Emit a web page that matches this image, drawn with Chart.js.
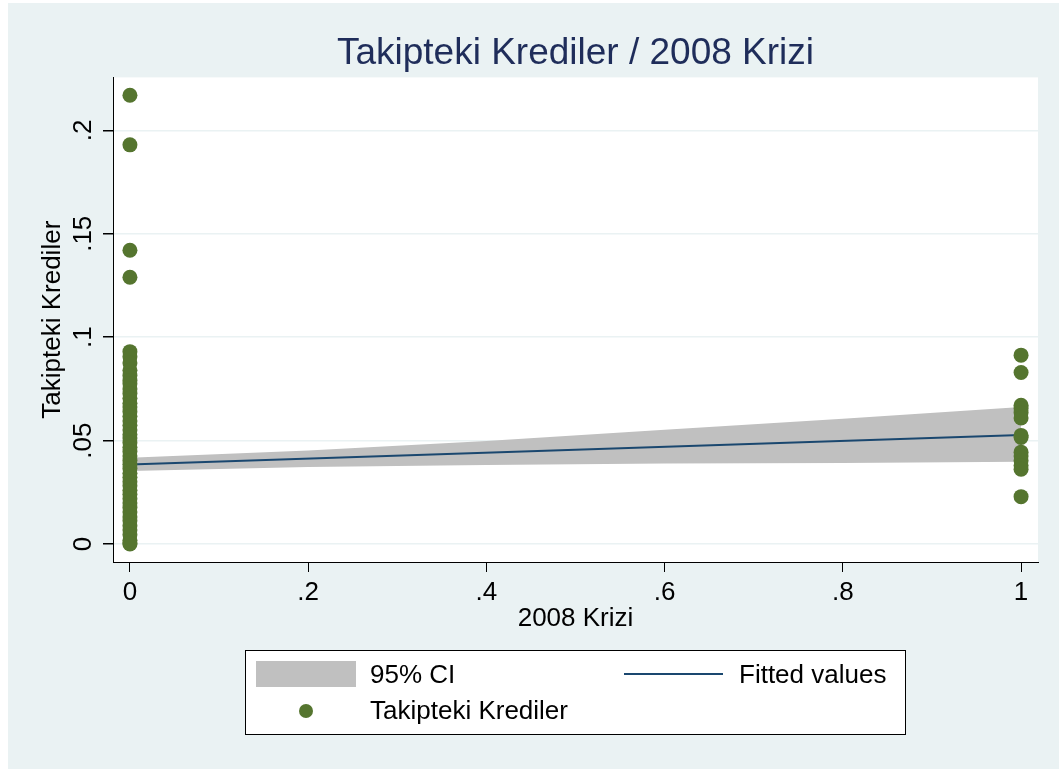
<!DOCTYPE html>
<html>
<head>
<meta charset="utf-8">
<script src="https://cdn.jsdelivr.net/npm/chart.js@4/dist/chart.umd.min.js"></script>
<style>
  html, body { margin: 0; padding: 0; background: #fff; }
  canvas { display: block; }
</style>
</head>
<body>
<canvas id="c" width="1059" height="769"></canvas>
<script>
// Takipteki Krediler / 2008 Krizi -- scatter + lfitci (Stata look)

const titleText = "Takipteki Krediler / 2008 Krizi";
const xTitle = "2008 Krizi";
const yTitle = "Takipteki Krediler";

// tick values and their labels
const xTicks = [0, 0.2, 0.4, 0.6, 0.8, 1];
const xTickLabels = ["0", ".2", ".4", ".6", ".8", "1"];
const yTicks = [0, 0.05, 0.1, 0.15, 0.2];
const yTickLabels = ["0", ".05", ".1", ".15", ".2"];

// observations, 2008 Krizi = 0
const nplNoCrisis = [
    0.217, 0.193, 0.142, 0.129,
    0.093, 0.0905, 0.0875, 0.084, 0.0815, 0.079, 0.0775, 0.075, 0.0728, 0.0705,
    0.068, 0.0662, 0.064, 0.0618, 0.0595, 0.0574, 0.0551, 0.053, 0.0512, 0.049,
    0.0468, 0.0447, 0.0425, 0.0404, 0.0386, 0.0365, 0.0342, 0.0323, 0.0301,
    0.0282, 0.026, 0.0241, 0.0219, 0.0198, 0.0176, 0.0155, 0.0131, 0.0112,
    0.0088, 0.0068, 0.0045, 0.0018, 0.0005, 0.0
];
// observations, 2008 Krizi = 1
const nplCrisis = [
    0.0913, 0.0829, 0.0671, 0.0655, 0.0635, 0.0609, 0.0525, 0.0515,
    0.0444, 0.0425, 0.0402, 0.038, 0.0362, 0.0229
];

// fitted values and 95% CI
const fitX = [0, 1];
const fitY = [0.0385, 0.0527];
const ciX = [0, 0.2, 0.4, 0.6, 0.8, 1];
const ciLower = [0.0353, 0.0372, 0.0382, 0.0389, 0.0392, 0.0398];
const ciUpper = [0.0417, 0.0452, 0.0498, 0.0552, 0.0606, 0.0662];

const FONT = "'Liberation Sans', Arial, sans-serif";
const BG = "#EAF2F3";
const GREEN = "#55752F";
const NAVY = "#1A476F";
const GREY = "#C0C0C0";

const pts = (xs, ys) => xs.map((x, i) => ({ x, y: ys[i] }));

const stataBg = {
    id: "stataBg",
    beforeDraw(chart) {
        const { ctx, chartArea: a } = chart;
        ctx.save();
        ctx.fillStyle = "#fff";
        ctx.fillRect(0, 0, chart.width, chart.height);
        ctx.fillStyle = BG;
        ctx.fillRect(8, 3, chart.width - 8, chart.height - 3);
        ctx.fillStyle = "#fff";
        ctx.fillRect(a.left, a.top, a.right - a.left, a.bottom - a.top);
        ctx.restore();
    }
};

// boxed legend under the plot, like Stata's two-column legend
const stataLegend = {
    id: "stataLegend",
    afterDraw(chart) {
        const ctx = chart.ctx;
        const ds = chart.data.datasets;
        ctx.save();
        ctx.fillStyle = "#fff";
        ctx.fillRect(245, 650, 661, 85);
        ctx.strokeStyle = "#000";
        ctx.lineWidth = 1;
        ctx.strokeRect(245.5, 650.5, 660, 84);

        ctx.font = "26px " + FONT;
        ctx.fillStyle = "#000";
        ctx.textBaseline = "middle";
        ctx.textAlign = "left";

        // CI
        ctx.fillStyle = ds[1].backgroundColor;
        ctx.fillRect(256, 661, 100, 26);
        ctx.fillStyle = "#000";
        ctx.fillText(ds[1].label, 370, 676);

        // fitted line
        ctx.strokeStyle = ds[2].borderColor;
        ctx.lineWidth = 2;
        ctx.beginPath();
        ctx.moveTo(624, 674);
        ctx.lineTo(723, 674);
        ctx.stroke();
        ctx.fillText(ds[2].label, 739, 676);

        // scatter
        ctx.fillStyle = ds[3].backgroundColor;
        ctx.beginPath();
        ctx.arc(306, 711, 7, 0, Math.PI * 2);
        ctx.fill();
        ctx.fillStyle = "#000";
        ctx.fillText(ds[3].label, 370, 712);
        ctx.restore();
    }
};

new Chart(document.getElementById("c"), {
    type: "scatter",
    data: {
        datasets: [
            { type: "line", label: "lower", data: pts(ciX, ciLower), borderWidth: 0, pointRadius: 0, fill: false, order: 3 },
            { type: "line", label: "95% CI", data: pts(ciX, ciUpper), borderWidth: 0, pointRadius: 0, backgroundColor: GREY, fill: "-1", order: 2 },
            { type: "line", label: "Fitted values", data: pts(fitX, fitY), borderColor: NAVY, borderWidth: 2, pointRadius: 0, fill: false, order: 1 },
            {
                type: "scatter", label: "Takipteki Krediler",
                data: nplNoCrisis.map(v => ({ x: 0, y: v })).concat(nplCrisis.map(v => ({ x: 1, y: v }))),
                backgroundColor: GREEN, borderWidth: 0, pointRadius: 7.5, order: 0
            }
        ]
    },
    options: {
        responsive: false,
        animation: false,
        devicePixelRatio: 1,
        layout: { padding: { left: 0, right: 21, top: 0, bottom: 0 } },
        plugins: {
            legend: { display: false },
            tooltip: { enabled: false },
            title: {
                display: true, text: titleText, fullSize: false,
                color: "#1F2D5A", font: { family: FONT, size: 37, weight: "normal" },
                padding: { top: 32, bottom: 1 }
            }
        },
        scales: {
            x: {
                type: "linear", min: -0.019, max: 1.019,
                afterBuildTicks: s => { s.ticks = xTicks.map(v => ({ value: v })); },
                afterFit: s => { s.height = 207; },
                ticks: {
                    autoSkip: false, maxRotation: 0, padding: 5, color: "#000",
                    font: { family: FONT, size: 26 },
                    callback: v => xTickLabels[xTicks.indexOf(v)]
                },
                grid: { drawOnChartArea: false, drawTicks: true, tickLength: 10, tickColor: "#000" },
                border: { display: true, color: "#000", width: 1 },
                title: {
                    display: true, text: xTitle, color: "#000",
                    font: { family: FONT, size: 26 }, padding: { top: 0, bottom: 135 }
                }
            },
            y: {
                type: "linear", min: -0.0087, max: 0.2256,
                afterBuildTicks: s => { s.ticks = yTicks.map(v => ({ value: v })); },
                afterFit: s => { s.width = 113; },
                ticks: {
                    autoSkip: false, minRotation: 90, maxRotation: 90, crossAlign: "center",
                    padding: 1, color: "#000", font: { family: FONT, size: 26 },
                    callback: v => yTickLabels[yTicks.indexOf(v)]
                },
                grid: { color: BG, lineWidth: 1.5, drawTicks: true, tickLength: 10, tickColor: "#000" },
                border: { display: true, color: "#000", width: 1 },
                title: {
                    display: true, text: yTitle, color: "#000",
                    font: { family: FONT, size: 26 }, padding: { top: 37, bottom: 0 }
                }
            }
        }
    },
    plugins: [stataBg, stataLegend]
});
</script>
</body>
</html>
